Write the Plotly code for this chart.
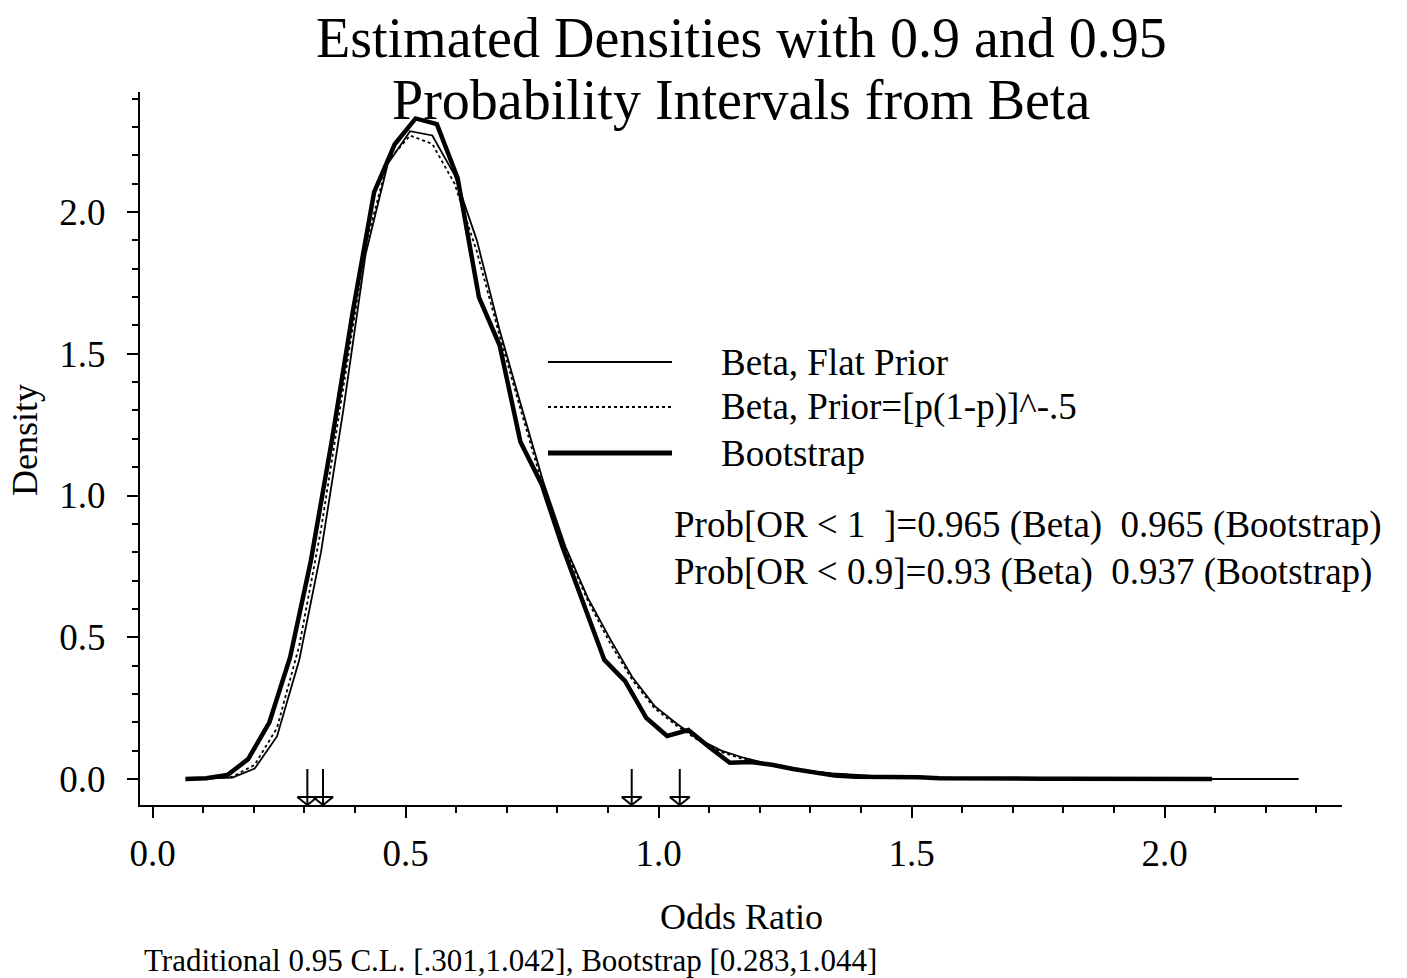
import plotly.graph_objects as go

# ---------------- data ----------------
boot_x = [0.065, 0.106, 0.148, 0.189, 0.231, 0.272, 0.313, 0.355, 0.396, 0.438,
          0.479, 0.520, 0.562, 0.603, 0.645, 0.686, 0.727, 0.769, 0.810, 0.852,
          0.893, 0.934, 0.976, 1.017, 1.059, 1.100, 1.141, 1.183, 1.224, 1.266,
          1.307, 1.348, 1.390, 1.431, 1.473, 1.514, 1.555, 1.597, 1.638, 1.680,
          1.721, 1.762, 1.804, 1.845, 1.887, 1.928, 1.969, 2.011, 2.052, 2.094]
boot_y = [0.000, 0.003, 0.014, 0.070, 0.200, 0.430, 0.770, 1.200, 1.650, 2.070,
          2.240, 2.330, 2.310, 2.120, 1.700, 1.530, 1.190, 1.040, 0.820, 0.620,
          0.420, 0.345, 0.215, 0.152, 0.173, 0.113, 0.057, 0.060, 0.050, 0.035,
          0.025, 0.012, 0.008, 0.008, 0.008, 0.006, 0.003, 0.002, 0.001, 0.002,
          0.002, 0.001, 0.001, 0.001, 0.000, 0.000, 0.000, 0.000, 0.000, 0.000]

beta_x = [0.070, 0.114, 0.158, 0.202, 0.246, 0.290, 0.333, 0.377, 0.421, 0.465,
          0.509, 0.553, 0.597, 0.641, 0.685, 0.728, 0.772, 0.816, 0.860, 0.904,
          0.948, 0.992, 1.036, 1.080, 1.124, 1.168, 1.212, 1.256, 1.300, 1.344,
          1.388, 1.432, 1.475, 1.519, 1.563, 1.607, 1.651, 1.695, 1.739, 1.783,
          1.827, 1.871, 1.914, 1.958, 2.002, 2.046, 2.090, 2.134, 2.178, 2.222,
          2.265]
flat_y = [0.000, 0.002, 0.005, 0.037, 0.150, 0.420, 0.800, 1.300, 1.850, 2.170,
          2.285, 2.270, 2.130, 1.900, 1.590, 1.320, 1.050, 0.820, 0.640, 0.495,
          0.360, 0.258, 0.195, 0.140, 0.100, 0.075, 0.055, 0.040, 0.028, 0.020,
          0.014, 0.010, 0.007, 0.005, 0.004, 0.003, 0.002, 0.0015, 0.001, 0.001,
          0.001, 0.000, 0.000, 0.000, 0.000, 0.000, 0.000, 0.000, 0.000, 0.000,
          0.000]
jeff_y = [0.000, 0.002, 0.008, 0.050, 0.180, 0.470, 0.880, 1.380, 1.880, 2.180,
          2.270, 2.240, 2.100, 1.860, 1.570, 1.300, 1.030, 0.810, 0.630, 0.480,
          0.350, 0.250, 0.188, 0.135, 0.095, 0.070, 0.052, 0.038, 0.027, 0.019,
          0.013, 0.009, 0.006, 0.005, 0.004, 0.003, 0.002, 0.0015, 0.001, 0.001,
          0.001, 0.000, 0.000, 0.000, 0.000, 0.000, 0.000, 0.000, 0.000, 0.000,
          0.000]

# interval end points marked with arrows (0.95 and 0.9 intervals from Beta)
arrow_x = [0.306, 0.337, 0.947, 1.042]

series_names = ["Beta, Flat Prior", "Beta, Prior=[p(1-p)]^-.5", "Bootstrap"]
prob_lines = ["Prob[OR &lt; 1\u00a0\u00a0]=0.965 (Beta)\u00a0\u00a00.965 (Bootstrap)",
              "Prob[OR &lt; 0.9]=0.93 (Beta)\u00a0\u00a00.937 (Bootstrap)"]
title_lines = ["Estimated Densities with 0.9 and 0.95", "Probability Intervals from Beta"]
footnote = "Traditional 0.95 C.L. [.301,1.042], Bootstrap [0.283,1.044]"

# ---------------- layout geometry ----------------
W, H = 1407, 978
L, R, T, B = 140, 1342, 92, 805
FONT = "Liberation Serif, Times New Roman, serif"
X_RANGE = [-0.0247, 2.3507]
Y_RANGE = [-0.0917, 2.4233]


def px(p):
    return (p - L) / (R - L)


def py(p):
    return (B - p) / (B - T)


fig = go.Figure()

fig.add_trace(go.Scatter(x=beta_x, y=flat_y, mode="lines", name=series_names[0],
                         line=dict(color="black", width=1.8), showlegend=False))
fig.add_trace(go.Scatter(x=beta_x, y=jeff_y, mode="lines", name=series_names[1],
                         line=dict(color="black", width=1.8, dash="dot"), showlegend=False))
fig.add_trace(go.Scatter(x=boot_x, y=boot_y, mode="lines", name=series_names[2],
                         line=dict(color="black", width=4.5), showlegend=False))

# arrows: stems and open triangular heads, built from the arrow positions
y_stem_top = (779 - 769) / 283.5
y_head_top = (779 - 797) / 283.5
y_tip = Y_RANGE[0]
half_w = 10 / 506
ax, ay = [], []
for xv in arrow_x:
    ax += [xv, xv, None, xv - half_w, xv + half_w, xv, xv - half_w, None]
    ay += [y_stem_top, y_tip, None, y_head_top, y_head_top, y_tip, y_head_top, None]
fig.add_trace(go.Scatter(x=ax, y=ay, mode="lines", line=dict(color="black", width=2),
                         showlegend=False, cliponaxis=False, hoverinfo="skip"))

annotations = []
# title (two lines, placed separately to match spacing)
annotations.append(dict(text=title_lines[0], x=0.5, y=py(38), xref="paper", yref="paper",
                        showarrow=False, xanchor="center", yanchor="middle",
                        font=dict(size=56, family=FONT, color="black")))
annotations.append(dict(text=title_lines[1], x=0.5, y=py(100), xref="paper", yref="paper",
                        showarrow=False, xanchor="center", yanchor="middle",
                        font=dict(size=56, family=FONT, color="black")))

# legend (manual)
leg_y = [362, 407, 453]
leg_styles = [dict(width=2, dash="solid"), dict(width=2, dash="dot"), dict(width=5, dash="solid")]
shapes = []
for yy, st, name in zip(leg_y, leg_styles, series_names):
    shapes.append(dict(type="line", xref="paper", yref="paper", x0=px(548), x1=px(672),
                       y0=py(yy), y1=py(yy), line=dict(color="black", **st)))
    annotations.append(dict(text=name, x=px(719), y=py(yy), xref="paper", yref="paper",
                            showarrow=False, xanchor="left", yanchor="middle",
                            font=dict(size=37, family=FONT, color="black")))

for yy, t in zip([525, 572], prob_lines):
    annotations.append(dict(text=t, x=px(672), y=py(yy), xref="paper", yref="paper",
                            showarrow=False, xanchor="left", yanchor="middle",
                            font=dict(size=37, family=FONT, color="black")))

annotations.append(dict(text="Odds Ratio", x=0.5, y=py(917), xref="paper", yref="paper",
                        showarrow=False, xanchor="center", yanchor="middle",
                        font=dict(size=36, family=FONT, color="black")))
annotations.append(dict(text="Density", x=px(25), y=py(440), xref="paper", yref="paper",
                        showarrow=False, xanchor="center", yanchor="middle", textangle=-90,
                        font=dict(size=36, family=FONT, color="black")))
annotations.append(dict(text=footnote, x=px(142), y=py(960), xref="paper", yref="paper",
                        showarrow=False, xanchor="left", yanchor="middle",
                        font=dict(size=31, family=FONT, color="black")))

axis_common = dict(showline=True, linecolor="black", linewidth=2, ticks="outside",
                   ticklen=11, tickwidth=2, tickcolor="black", showgrid=False,
                   zeroline=False, tickformat=".1f",
                   tickfont=dict(size=37, family=FONT, color="black"),
                   minor=dict(ticks="outside", ticklen=6, tickwidth=2, tickcolor="black",
                              dtick=0.1, showgrid=False))

fig.update_layout(
    width=W, height=H, autosize=False,
    margin=dict(l=L, r=W - R, t=T, b=H - B, pad=0),
    paper_bgcolor="white", plot_bgcolor="white",
    font=dict(family=FONT, color="black"),
    showlegend=False,
    xaxis=dict(range=X_RANGE, tick0=0, dtick=0.5, ticklabelstandoff=4, **axis_common),
    yaxis=dict(range=Y_RANGE, tick0=0, dtick=0.5, ticklabelstandoff=14, **axis_common),
    annotations=annotations,
    shapes=shapes,
)

fig.write_html("out.html")
